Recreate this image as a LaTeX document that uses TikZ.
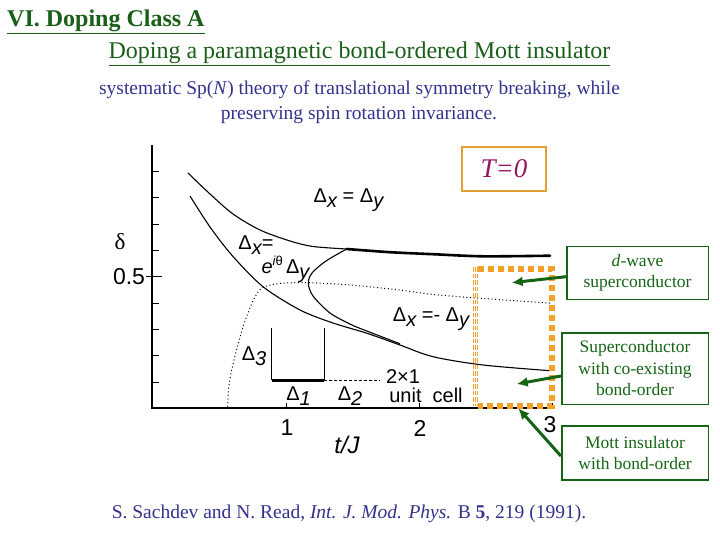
\documentclass[tikz,border=0pt]{standalone}
\usepackage{fontspec}
\setmainfont{Liberation Serif}
\newfontfamily\plotfont{Liberation Sans}
\usetikzlibrary{arrows.meta}
\definecolor{ttlgreen}{RGB}{25,95,25}
\definecolor{txtblue}{RGB}{50,50,140}
\definecolor{boxorange}{RGB}{225,160,50}
\definecolor{dotorange}{RGB}{245,160,40}
\definecolor{tmagenta}{RGB}{150,20,100}
\definecolor{arrgreen}{RGB}{20,100,20}
\newcommand\sbx[1]{\raisebox{-0.45ex}{\itshape #1}}
\tikzset{
  plotlbl/.style={font=\plotfont\fontsize{20bp}{22bp}\selectfont, inner sep=0pt},
  axlbl/.style={font=\plotfont\fontsize{23bp}{25bp}\selectfont, inner sep=0pt},
  curve/.style={line width=1.1bp, black},
  dotcurve/.style={line width=1bp, black, dash pattern=on 1bp off 2.6bp},
  gbox/.style={draw=arrgreen, line width=1.6bp, text=arrgreen, align=center, inner sep=0pt,
    font=\fontsize{17.5bp}{21.5bp}\selectfont},
  garrow/.style={draw=arrgreen, line width=3bp, -{Latex[length=11bp,width=10bp]}},
  odots/.style={draw=dotorange, line width=6bp, dash pattern=on 6bp off 4bp},
  ostripe/.style={draw=dotorange, line width=1.4bp, dash pattern=on 4.5bp off 2bp},
  bluetxt/.style={anchor=base, inner sep=0pt, text=txtblue, font=\fontsize{19.5bp}{22bp}\selectfont},
}
\begin{document}
\begin{tikzpicture}[x=1bp,y=-1bp]
\useasboundingbox (0,0) rectangle (720,540);
% titles
\node[anchor=base west, inner sep=0pt, text=ttlgreen, font=\bfseries\fontsize{24bp}{26bp}\selectfont] (title) at (7,26.5) {\underline{VI. Doping Class A}};
\node[anchor=base, inner sep=0pt, text=ttlgreen, font=\fontsize{24bp}{26bp}\selectfont] (subtitle) at (359.5,58.5) {\underline{Doping a paramagnetic bond-ordered Mott insulator}};
\node[bluetxt] (desc1) at (359.5,95) {systematic Sp(\textit{N}) theory of translational symmetry breaking, while};
\node[bluetxt] (desc2) at (359,119.5) {preserving spin rotation invariance.};
\node[bluetxt] (cite) at (349,518) {S. Sachdev and N. Read, \textit{Int. J. Mod. Phys.} B \textbf{5}, 219 (1991).};
% axes
\coordinate (o) at (152,408);
\coordinate (ytop) at (152,145);
\coordinate (xend) at (553,408);
\draw[line width=1.3bp] (ytop) -- (o) -- (xend);
\foreach \k in {0,...,8} { \draw[line width=1bp] (152,171.7+26.3*\k) -- (159,171.7+26.3*\k); }
\draw[line width=1bp] (146,276.9) -- (162,276.9);
\foreach \xx in {286,419,552} { \draw[line width=1bp] (\xx,408) -- (\xx,403); }
\node[axlbl] (l1) at (287,428) {1};
\node[axlbl] (l2) at (420,428) {2};
\node[axlbl] (l3) at (550,425) {3};
\node[axlbl, font=\plotfont\fontsize{24bp}{26bp}\selectfont] (tj) at (347,445) {\itshape t/J};
\node[inner sep=0pt, font=\fontsize{23bp}{24bp}\selectfont] (delta) at (120,242) {δ};
\node[axlbl] (half) at (129,277) {0.5};
% curves
\draw[curve] plot[smooth] coordinates {(188,173) (210,194) (233,214) (260,230) (290,241) (313,246.5) (346.7,249)};
\draw[line width=2.6bp, line cap=round] plot[smooth] coordinates {(346.7,249) (390,252.2) (433,254.2) (483,256.3) (550,255.7)};
\draw[curve] plot[smooth] coordinates {(190,196) (210,227) (233,256.5) (263,286.7) (300,310) (333,323) (366.7,333.2) (400,345) (433,356.7) (483,365) (550,370.7)};
\draw[curve] plot[smooth] coordinates {(346.7,249) (326,261) (312,273) (308.3,283.3) (313,296) (330,313) (352,325) (372,333) (400,343.8)};
\draw[dotcurve] plot[smooth] coordinates {(227.7,406.7) (229,385) (234,360) (243,327) (253,301) (262,288) (280,283.5) (308,282.7) (350,285) (400,290) (433,294.5) (490,299) (551.7,303.3)};
% inset
\draw[line width=1bp] (271.7,328.3) -- (271.7,380);
\draw[line width=1bp] (324,328.3) -- (324,380);
\draw[line width=3bp] (271.7,380) -- (324,380);
\draw[line width=0.9bp, dash pattern=on 3bp off 2bp] (324,380) -- (380,380);
\node[plotlbl] (d3) at (254,356) {Δ\sbx{3}};
\node[plotlbl] (d1) at (298.5,396) {Δ\sbx{1}};
\node[plotlbl] (d2) at (350,396) {Δ\sbx{2}};
\node[plotlbl] (two) at (403,377) {2×1};
\node[plotlbl] (unit) at (426,395) {unit\ \ cell};
% region labels
\node[plotlbl] (r1) at (348.5,200) {Δ\sbx{x} = Δ\sbx{y}};
\node[plotlbl] (r2) at (256,245) {Δ\sbx{x}=};
\node[plotlbl] (r3) at (285.5,269) {\itshape e\raisebox{0.8ex}{\fontsize{13bp}{13bp}\selectfont i}\raisebox{0.8ex}{\fontsize{13bp}{13bp}\selectfont\upshape θ}\upshape\,Δ\sbx{y}};
\node[plotlbl] (r4) at (431,319) {Δ\sbx{x} =- Δ\sbx{y}};
% T=0 box
\node[draw=boxorange, line width=2.5bp, minimum width=84bp, minimum height=44bp, inner sep=0pt,
  text=tmagenta, font=\itshape\fontsize{27bp}{28bp}\selectfont] (temp) at (504,169) {T=0};
% orange dotted region
\draw[odots] (478,269) -- (552,269) -- (552,406) -- (478,406);
\foreach \sx in {473.6,475.5,477.4} { \draw[ostripe] (\sx,267) -- (\sx,406); }
% green boxes
\node[gbox, minimum width=141.6bp, minimum height=52.6bp] (b1) at (637.5,273) {\textit{d}-wave\\superconductor};
\node[gbox, minimum width=146.6bp, minimum height=71.6bp] (b2) at (635,368.5) {Superconductor\\with co-existing\\bond-order};
\node[gbox, minimum width=146.6bp, minimum height=54bp] (b3) at (635,453) {Mott insulator\\with bond-order};
\coordinate (t1) at (511.7,282.7);
\coordinate (t2) at (516.7,384);
\coordinate (t3) at (518.3,408.3);
\draw[garrow] ([yshift=-3.7bp]b1.west) -- (t1);
\draw[garrow] ([yshift=-7.5bp]b2.west) -- (t2);
\draw[garrow] ([yshift=-3bp]b3.west) -- (t3);
\end{tikzpicture}
\end{document}
